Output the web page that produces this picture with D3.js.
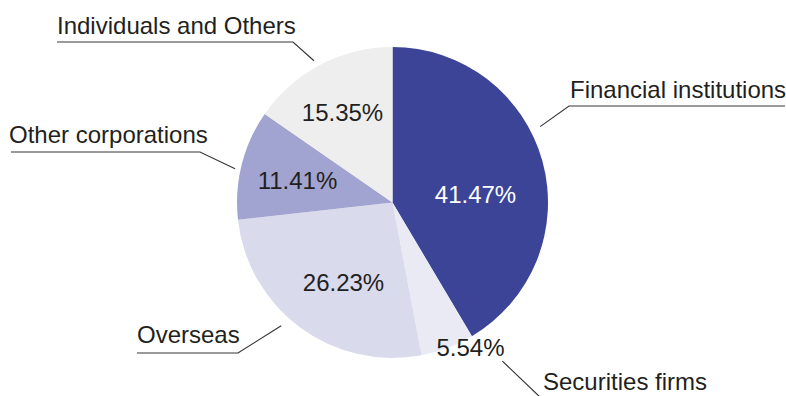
<!DOCTYPE html>
<meta charset="utf-8">
<style>
  body { margin: 0; background: #fff; }
  text { font-family: "Liberation Sans", Arial, sans-serif; fill: #231f20; }
</style>
<body>
<script src="https://cdn.jsdelivr.net/npm/d3@7/dist/d3.min.js"></script>
<script>

// Shareholder composition (%), clockwise from 12 o'clock
var categories = ["Financial institutions", "Securities firms", "Overseas", "Other corporations", "Individuals and Others"];
var shares = [41.47, 5.54, 26.23, 11.41, 15.35];
var colors = ["#3c4497", "#e9eaf4", "#d9daec", "#a1a4d0", "#eeeeee"];

var width = 786,
    height = 396,
    cx = 392.5,
    cy = 202.5,
    radius = 155.5;

var svg = d3.select("body").append("svg")
    .attr("width", width)
    .attr("height", height);

var data = categories.map(function(c, i) {
  return {name: c, value: shares[i], color: colors[i]};
});

var pie = d3.pie()
    .sort(null)
    .value(function(d) { return d.value; });

var arc = d3.arc()
    .innerRadius(0)
    .outerRadius(radius);

var g = svg.append("g")
    .attr("transform", "translate(" + cx + "," + cy + ")");

var arcs = pie(data);

g.selectAll("path")
  .data(arcs)
  .enter().append("path")
    .attr("d", arc)
    .attr("fill", function(d) { return d.data.color; });

// percentage labels: offsets from pie centre (layout only)
var pctPos = [[83, 0], [78, 153], [-49, 88], [-95, -14], [-50, -82]];

g.selectAll(".pct")
  .data(arcs)
  .enter().append("text")
    .attr("class", "pct")
    .attr("x", function(d, i) { return pctPos[i][0]; })
    .attr("y", function(d, i) { return pctPos[i][1]; })
    .attr("text-anchor", "middle")
    .style("font-size", "24px")
    .style("fill", function(d, i) { return i === 0 ? "#ffffff" : "#231f20"; })
    .text(function(d) { return d.data.value.toFixed(2) + "%"; });

// leader lines: start (angle deg from top, radius), elbow, end of underline, text x, baseline
var leaders = [
  {a: 62.8, r: 166, elbow: [569, 106], end: [785, 106], tx: 570, ty: 98},
  {a: 145.3, r: 193, elbow: [541, 398], end: [786, 398], tx: 543, ty: 390},
  {a: 222.1, r: 166, elbow: [238, 353], end: [137, 353], tx: 137, ty: 343},
  {a: 282.1, r: 161, elbow: [200, 152], end: [11, 152], tx: 9, ty: 143},
  {a: 331.0, r: 162, elbow: [293, 42], end: [57, 42], tx: 57, ty: 34}
];

var lg = svg.append("g");

leaders.forEach(function(l, i) {
  var ang = l.a * Math.PI / 180;
  var sx = cx + l.r * Math.sin(ang),
      sy = cy - l.r * Math.cos(ang);
  lg.append("polyline")
      .attr("points", [[sx, sy], l.elbow, l.end].map(function(p) { return p.join(","); }).join(" "))
      .attr("fill", "none")
      .attr("stroke", "#3a3536")
      .attr("stroke-width", 1.2);
  lg.append("text")
      .attr("x", l.tx)
      .attr("y", l.ty)
      .style("font-size", "24px")
      .text(categories[i]);
});

</script>
</body>
